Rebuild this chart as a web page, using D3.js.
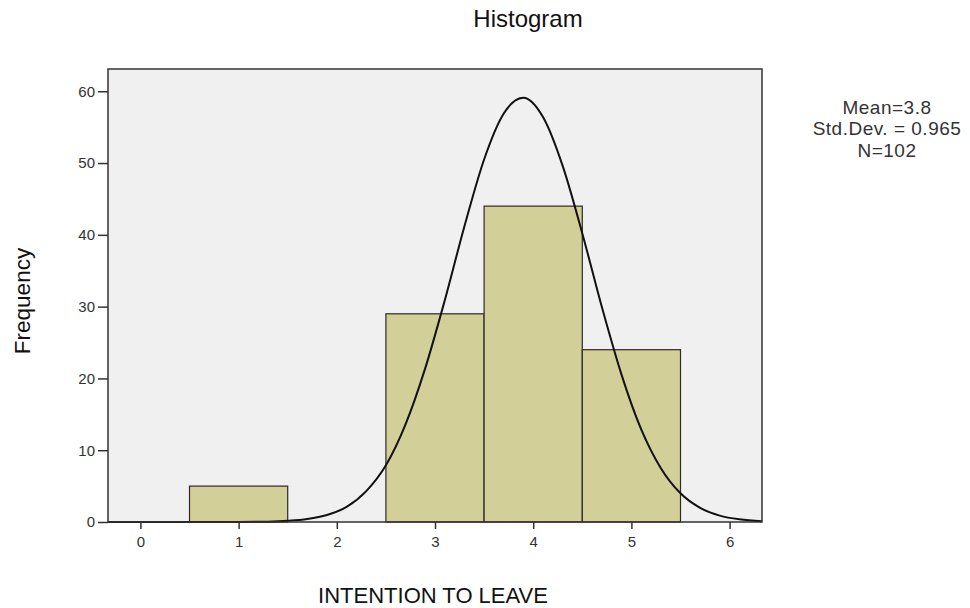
<!DOCTYPE html>
<html>
<head>
<meta charset="utf-8">
<script src="https://cdn.jsdelivr.net/npm/d3@7"></script>
<style>
  body { margin: 0; background: #fff; }
  text { font-family: "Liberation Sans", Arial, sans-serif; }
</style>
</head>
<body>
<div id="chart"></div>
<script>

  // bins (centre of each 1-wide bin) and their counts
  var binCentres = [1, 3, 4, 5];
  var binCounts = [5, 29, 44, 24];
  var binWidth = 1;

  var xTicks = [0, 1, 2, 3, 4, 5, 6];
  var yTicks = [0, 10, 20, 30, 40, 50, 60];

  // normal curve
  var curveX = [-0.33, 0.5, 1.0, 1.3, 1.5, 1.7, 1.9, 2.1, 2.3, 2.5, 2.7, 2.9, 3.1, 3.3, 3.5, 3.7, 3.9,
                4.1, 4.3, 4.5, 4.7, 4.9, 5.1, 5.3, 5.5, 5.7, 5.9, 6.1, 6.33];
  var curveY = [0, 0, 0.01, 0.05, 0.16, 0.41, 0.97, 2.1, 4.3, 7.9, 13.6, 21.4, 30.9, 41.2, 50.5, 56.9, 59.1,
                56.4, 49.6, 40.2, 29.9, 20.5, 12.9, 7.5, 4.0, 1.97, 0.89, 0.37, 0.12];

  var statLines = ["Mean=3.8", "Std.Dev. = 0.965", "N=102"];

  //=========================================================================
  // Dimensions
  //=========================================================================
  var width = 970, height = 608;
  var margin = { top: 69, right: 208, bottom: 86, left: 108 },
      iwidth = width - margin.left - margin.right,
      iheight = height - margin.top - margin.bottom;

  var svg = d3.select("#chart")
    .append("svg")
    .attr("width", width)
    .attr("height", height);

  var x = d3.scaleLinear().domain([-0.33, 6.33]).range([0, iwidth]);
  var y = d3.scaleLinear().domain([0, 63.1]).range([iheight, 0]);

  var gDrawing = svg.append("g")
    .attr("transform", `translate(${margin.left}, ${margin.top})`);

  // plot background
  gDrawing.append("rect")
    .attr("width", iwidth)
    .attr("height", iheight)
    .attr("fill", "#f0f0f0");

  //=========================================================================
  // Bars
  //=========================================================================
  gDrawing.append("g")
    .selectAll("rect")
    .data(binCentres)
    .enter()
    .append("rect")
    .attr("x", function(d) { return x(d - binWidth / 2); })
    .attr("width", function(d) { return x(d + binWidth / 2) - x(d - binWidth / 2); })
    .attr("y", function(d, i) { return y(binCounts[i]); })
    .attr("height", function(d, i) { return y(0) - y(binCounts[i]); })
    .attr("fill", "#d3cf99")
    .attr("stroke", "#2a2a2a")
    .attr("stroke-width", 1.2);

  //=========================================================================
  // Normal curve
  //=========================================================================
  var line = d3.line()
    .x(function(d) { return x(d); })
    .y(function(d, i) { return y(curveY[i]); })
    .curve(d3.curveMonotoneX);

  gDrawing.append("path")
    .datum(curveX)
    .attr("d", line)
    .attr("fill", "none")
    .attr("stroke", "#111")
    .attr("stroke-width", 2);

  // frame
  gDrawing.append("rect")
    .attr("width", iwidth)
    .attr("height", iheight)
    .attr("fill", "none")
    .attr("stroke", "#333")
    .attr("stroke-width", 1.5);

  //=========================================================================
  // Axes
  //=========================================================================
  var yAxis = gDrawing.append("g")
    .call(d3.axisLeft(y).tickValues(yTicks).tickSize(10).tickPadding(3).tickFormat(d3.format("d")));
  yAxis.select(".domain").remove();

  var xAxis = gDrawing.append("g")
    .attr("transform", `translate(0, ${iheight})`)
    .call(d3.axisBottom(x).tickValues(xTicks).tickSize(7).tickPadding(7).tickFormat(d3.format("d")));
  xAxis.select(".domain").remove();

  gDrawing.selectAll(".tick line").attr("stroke", "#333").attr("stroke-width", 1.5);
  gDrawing.selectAll(".tick text")
    .attr("fill", "#333")
    .style("font-size", "15px")
    .style("font-family", "Liberation Sans, Arial, sans-serif");

  //=========================================================================
  // Titles
  //=========================================================================
  svg.append("text")
    .attr("x", 528)
    .attr("y", 27)
    .attr("text-anchor", "middle")
    .style("font-size", "24px")
    .attr("fill", "#111")
    .text("Histogram");

  svg.append("text")
    .attr("transform", "translate(30, 301) rotate(-90)")
    .attr("text-anchor", "middle")
    .style("font-size", "22.5px")
    .attr("fill", "#111")
    .text("Frequency");

  svg.append("text")
    .attr("x", 433)
    .attr("y", 603)
    .attr("text-anchor", "middle")
    .style("font-size", "22px")
    .attr("fill", "#111")
    .text("INTENTION TO LEAVE");

  svg.append("g")
    .selectAll("text")
    .data(statLines)
    .enter()
    .append("text")
    .attr("x", 887)
    .attr("y", function(d, i) { return 114 + i * 21.3; })
    .attr("text-anchor", "middle")
    .style("font-size", "19px")
    .style("letter-spacing", "0.5px")
    .attr("fill", "#333")
    .text(function(d) { return d; });

</script>
</body>
</html>
